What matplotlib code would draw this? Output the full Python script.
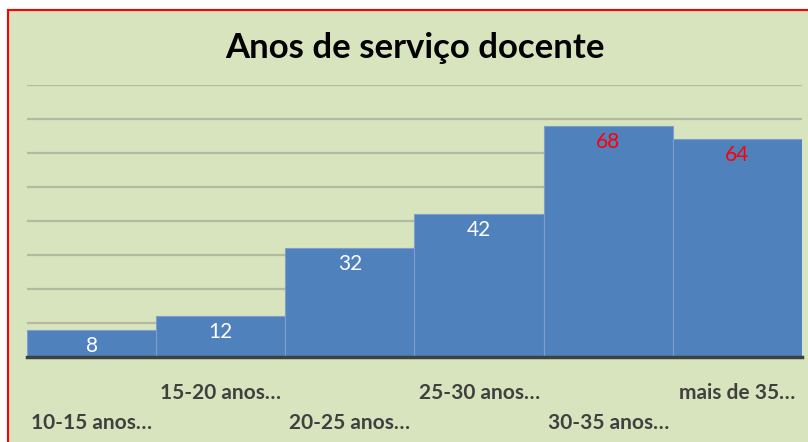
import matplotlib.pyplot as plt
from matplotlib.patches import Rectangle

categorias = ['10-15 anos…', '15-20 anos…', '20-25 anos…', '25-30 anos…', '30-35 anos…', 'mais de 35…']
valores = [8, 12, 32, 42, 68, 64]
cores_rotulo = ['white', 'white', 'white', 'white', '#FF0000', '#FF0000']

plt.rcParams['font.family'] = ['Lato', 'DejaVu Sans']

fig = plt.figure(figsize=(8.08, 4.42), dpi=100)
fig.patch.set_facecolor('white')
# fundo verde com borda vermelha
fig.patches.append(Rectangle((8 / 808, -0.1), 1.1, 1 - 10 / 442 + 0.1, transform=fig.transFigure,
                             facecolor='#D7E4BD', edgecolor='#FF0000', linewidth=1.5, zorder=-5))

ax = fig.add_axes([27 / 808, 1 - 357 / 442, 775 / 808, 272 / 442])
ax.set_facecolor('none')

x = list(range(len(valores)))
barras = ax.bar(x, valores, width=1.0, color='#4F81BD', edgecolor='#7E9FCC', linewidth=0.8, zorder=2)

for xi, v, c in zip(x, valores, cores_rotulo):
    ax.annotate(str(v), (xi, v), xytext=(0, -16), textcoords='offset pixels',
                ha='center', va='center', color=c, fontsize=15, zorder=3)

ax.set_xlim(-0.5, len(valores) - 0.5)
ax.set_ylim(0, 80)
ax.set_yticks(range(0, 81, 10))
ax.yaxis.grid(True, color='#B2BBA2', linewidth=1.6)
ax.set_axisbelow(True)
ax.tick_params(left=False, labelleft=False, bottom=False, labelbottom=False)
for s in ['top', 'right', 'left']:
    ax.spines[s].set_visible(False)
ax.spines['bottom'].set_color('#404040')
ax.spines['bottom'].set_linewidth(2.5)
ax.spines['bottom'].set_zorder(4)

# rótulos das categorias em duas linhas alternadas
for i, nome in enumerate(categorias):
    dy = -36 if i % 2 == 1 else -66
    ax.annotate(nome, (i, 0), xytext=(0, dy), textcoords='offset pixels',
                ha='center', va='center', fontsize=15, fontweight='bold', color='#404040',
                annotation_clip=False)

fig.text(415 / 808, 1 - 48 / 442, 'Anos de serviço docente', ha='center', va='center',
         fontsize=25, fontweight='bold', color='black')

fig.savefig('out.png', dpi=100)
